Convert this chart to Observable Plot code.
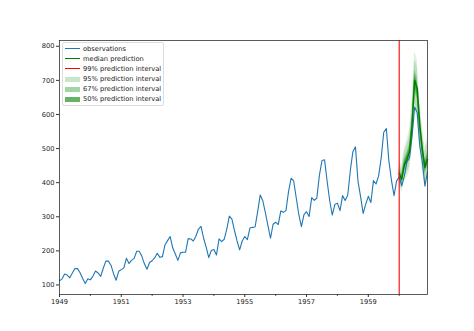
<!DOCTYPE html>
<html>
<head>
<meta charset="utf-8">
<script src="https://cdn.jsdelivr.net/npm/d3@7"></script>
<script src="https://cdn.jsdelivr.net/npm/@observablehq/plot@0.6"></script>
<style>
  html, body { margin: 0; padding: 0; background: #fff; }
  #wrap { position: relative; width: 474px; height: 331px; font-family: "DejaVu Sans", sans-serif; }
  #legend { position: absolute; left: 62px; top: 42px; width: 100px; height: 62px; border: 1px solid #ddd; border-radius: 2px; background: rgba(255,255,255,0.8); font-size: 6.7px; color: #222; }
  .row { position: absolute; left: 0; height: 10px; line-height: 10px; }
  .sw { position: absolute; left: 2px; width: 15px; box-sizing: border-box; }
  .lab { position: absolute; left: 20px; white-space: nowrap; }
</style>
</head>
<body>
<div id="wrap"></div>
<script>
// Monthly airline passengers, Jan 1949 – Dec 1960
const startYear = 1949;
const passengers = [
  112,118,132,129,121,135,148,148,136,119,104,118,
  115,126,141,135,125,149,170,170,158,133,114,140,
  145,150,178,163,172,178,199,199,184,162,146,166,
  171,180,193,181,183,218,230,242,209,191,172,194,
  196,196,236,235,229,243,264,272,237,211,180,201,
  204,188,235,227,234,264,302,293,259,229,203,229,
  242,233,267,269,270,315,364,347,312,274,237,278,
  284,277,317,313,318,374,413,405,355,306,271,306,
  315,301,356,348,355,422,465,467,404,347,305,336,
  340,318,362,348,363,435,491,505,404,359,310,337,
  360,342,406,396,420,472,548,559,463,407,362,405,
  417,391,419,461,472,535,622,606,508,461,390,432
];
// Forecast for Jan – Dec 1960
const forecastStart = 1960;
const median = [426, 410, 452, 468, 490, 565, 700, 676, 570, 498, 445, 468];
const lo99 = [392, 372, 405, 414, 432, 496, 610, 590, 498, 432, 388, 408];
const hi99 = [462, 452, 502, 524, 556, 640, 785, 762, 646, 566, 506, 532];
const lo95 = [400, 381, 416, 428, 446, 512, 632, 610, 514, 446, 400, 422];
const hi95 = [452, 440, 488, 508, 536, 618, 762, 740, 626, 548, 490, 516];
const lo67 = [412, 394, 434, 448, 468, 540, 668, 644, 544, 474, 424, 446];
const hi67 = [440, 426, 470, 488, 512, 590, 732, 708, 596, 522, 466, 490];
const lo50 = [417, 400, 441, 456, 478, 550, 682, 658, 556, 485, 432, 455];
const hi50 = [435, 420, 462, 480, 502, 580, 718, 694, 584, 511, 458, 481];
const yTicks = [100, 200, 300, 400, 500, 600, 700, 800];
const xMajor = [1949, 1951, 1953, 1955, 1957, 1959];
const xMinor = [1950, 1952, 1954, 1956, 1958, 1960];
const legendItems = [
  {label: "observations", kind: "line", color: "#1f77b4"},
  {label: "median prediction", kind: "line", color: "#008000"},
  {label: "99% prediction interval", kind: "line", color: "#ff0000"},
  {label: "95% prediction interval", kind: "box", color: "#c8e6c8"},
  {label: "67% prediction interval", kind: "box", color: "#a3d4a3"},
  {label: "50% prediction interval", kind: "box", color: "#66b366"}
];

const obs = passengers.map((v, i) => ({t: startYear + i / 12, v}));
const fc = median.map((m, i) => ({
  t: forecastStart + i / 12, m,
  lo99: lo99[i], hi99: hi99[i], lo95: lo95[i], hi95: hi95[i],
  lo67: lo67[i], hi67: hi67[i], lo50: lo50[i], hi50: hi50[i]
}));

const bandFill = "#008000";
const chart = Plot.plot({
  width: 474,
  height: 331,
  marginLeft: 59,
  marginRight: 47,
  marginTop: 40,
  marginBottom: 37,
  style: {fontFamily: "DejaVu Sans, sans-serif", fontSize: "6.7px", color: "#222", background: "#fff"},
  x: {domain: [1949, 1960 + 11 / 12], axis: null},
  y: {domain: [72, 817], axis: null},
  marks: [
    Plot.areaY(fc, {x: "t", y1: "lo99", y2: "hi99", fill: bandFill, fillOpacity: 0.12}),
    Plot.areaY(fc, {x: "t", y1: "lo95", y2: "hi95", fill: bandFill, fillOpacity: 0.16}),
    Plot.areaY(fc, {x: "t", y1: "lo67", y2: "hi67", fill: bandFill, fillOpacity: 0.28}),
    Plot.areaY(fc, {x: "t", y1: "lo50", y2: "hi50", fill: bandFill, fillOpacity: 0.45}),
    Plot.line(obs, {x: "t", y: "v", stroke: "#1f77b4", strokeWidth: 1.1}),
    Plot.line(fc, {x: "t", y: "m", stroke: "#008000", strokeWidth: 1.5}),
    Plot.ruleX([forecastStart], {stroke: "#ff0000", strokeWidth: 1.1}),
    Plot.axisY(yTicks, {anchor: "left", tickSize: 3, tickPadding: 2, stroke: "#333", fill: "#222", label: null}),
    Plot.axisX(xMajor, {anchor: "bottom", tickSize: 3, tickPadding: 2, stroke: "#333", fill: "#222", label: null, tickFormat: d => String(d)}),
    Plot.axisX(xMinor, {anchor: "bottom", tickSize: 1.8, stroke: "#333", tickFormat: () => "", label: null}),
    Plot.frame({stroke: "#333", strokeWidth: 0.8})
  ]
});

const wrap = document.getElementById("wrap");
wrap.appendChild(chart);
const leg = document.createElement("div");
leg.id = "legend";
legendItems.forEach((it, i) => {
  const row = document.createElement("div");
  row.className = "row";
  row.style.top = (1 + i * 10) + "px";
  row.style.width = "100%";
  const sw = document.createElement("div");
  sw.className = "sw";
  if (it.kind === "line") {
    sw.style.top = "4px"; sw.style.height = "2px"; sw.style.borderTop = "1.5px solid " + it.color;
  } else {
    sw.style.top = "2.5px"; sw.style.height = "5px"; sw.style.backgroundColor = it.color;
  }
  const lab = document.createElement("div");
  lab.className = "lab";
  lab.textContent = it.label;
  row.appendChild(sw); row.appendChild(lab);
  leg.appendChild(row);
});
wrap.appendChild(leg);
</script>
</body>
</html>
